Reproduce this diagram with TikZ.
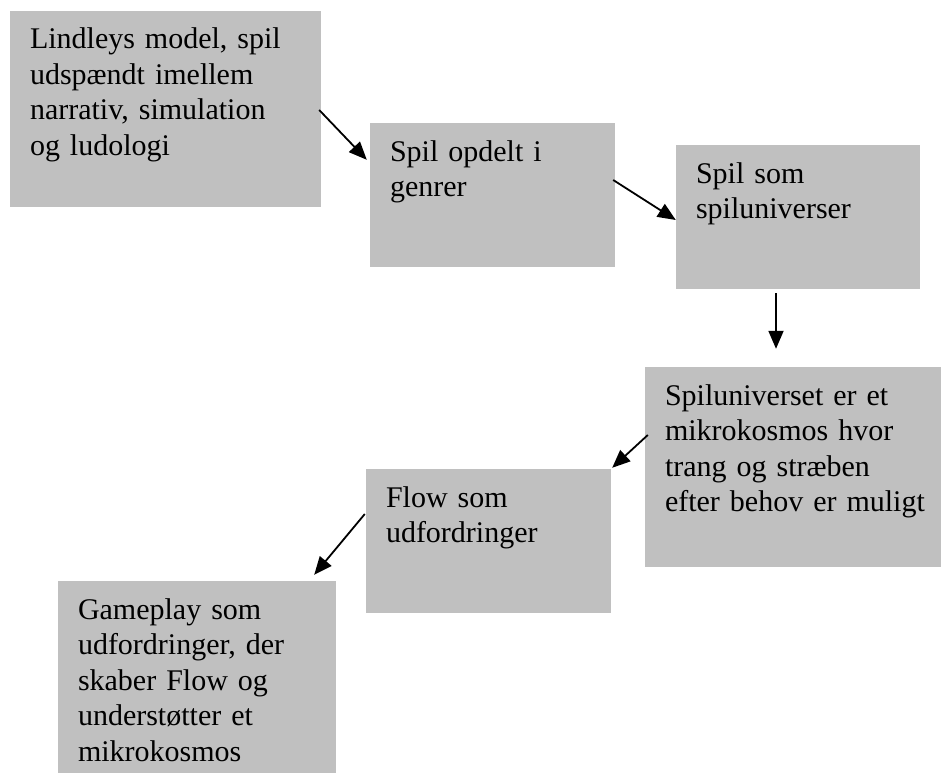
\documentclass[tikz,border=0pt]{standalone}
\usepackage{fontspec}
\setmainfont{Liberation Serif}
\usetikzlibrary{arrows.meta,calc}
\definecolor{boxgray}{HTML}{C0C0C0}

\tikzset{
  panel/.style={rectangle, fill=boxgray, draw=none, inner sep=0pt},
  caption/.style={anchor=base west, inner sep=0pt, text width=300pt, align=left,
                  font=\fontsize{30}{35.5}\selectfont},
  flow/.style={line width=1.8pt, -{Triangle[length=18pt,width=15pt]}}
}

\begin{document}
\begin{tikzpicture}[x=1pt, y=-1pt]
  \useasboundingbox (0,0) rectangle (942,773);

  % grey panels
  \node[panel, minimum width=311pt, minimum height=196pt] (b1) at (165.5,109) {};
  \node[panel, minimum width=245pt, minimum height=144pt] (b2) at (492.5,195) {};
  \node[panel, minimum width=244pt, minimum height=144pt] (b3) at (798,217) {};
  \node[panel, minimum width=296pt, minimum height=200pt] (b4) at (793,467) {};
  \node[panel, minimum width=245pt, minimum height=144pt] (b5) at (488.5,541) {};
  \node[panel, minimum width=278pt, minimum height=192pt] (b6) at (197,677) {};

  % panel texts
  \node[caption] (t1) at ($(b1.north west)+(20,38)$)
    {Lindleys model, spil\\udspændt imellem\\narrativ, simulation\\og ludologi};
  \node[caption] (t2) at ($(b2.north west)+(20,38.5)$)
    {Spil opdelt i\\genrer};
  \node[caption] (t3) at ($(b3.north west)+(20,38.5)$)
    {Spil som\\spiluniverser};
  \node[caption] (t4) at ($(b4.north west)+(20,38.5)$)
    {Spiluniverset er et\\mikrokosmos hvor\\trang og stræben\\efter behov er muligt};
  \node[caption] (t5) at ($(b5.north west)+(20,38.5)$)
    {Flow som\\udfordringer};
  \node[caption] (t6) at ($(b6.north west)+(20,38.5)$)
    {Gameplay som\\udfordringer, der\\skaber Flow og\\understøtter et\\mikrokosmos};

  % arrow ends
  \coordinate (a1s) at ($(b1.east)+(-2,1)$);
  \coordinate (a1e) at ($(b2.north west)+(-3,37)$);
  \coordinate (a2s) at ($(b2.east)+(-2,-15)$);
  \coordinate (a2e) at ($(b3.west)+(0,3)$);
  \coordinate (a3s) at ($(b3.south)+(-22,4)$);
  \coordinate (a3e) at ($(b4.north)+(-17,-18)$);
  \coordinate (a4s) at ($(b4.west)+(3,-32)$);
  \coordinate (a4e) at ($(b5.north east)+(1,-1)$);
  \coordinate (a5s) at ($(b5.west)+(-1,-27)$);
  \coordinate (a5e) at ($(b6.north east)+(-22,-6)$);

  % connectors
  \draw[flow] (a1s) -- (a1e);
  \draw[flow] (a2s) -- (a2e);
  \draw[flow] (a3s) -- (a3e);
  \draw[flow] (a4s) -- (a4e);
  \draw[flow] (a5s) -- (a5e);
\end{tikzpicture}
\end{document}
